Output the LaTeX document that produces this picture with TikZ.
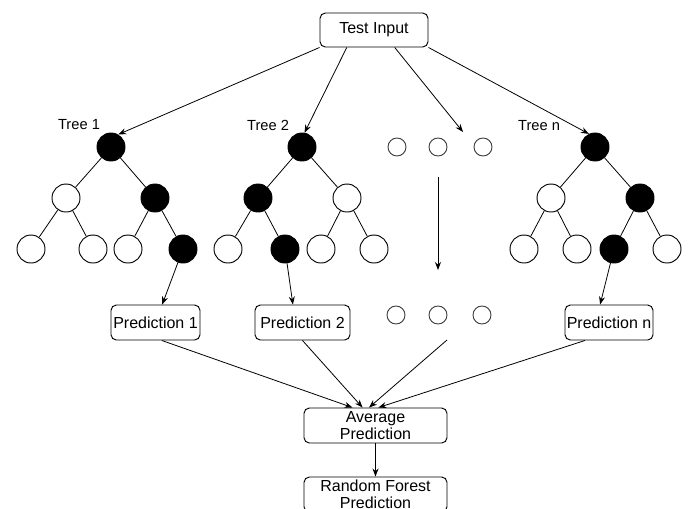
\documentclass[tikz,border=0pt]{standalone}
\usepackage{fontspec}
\setmainfont{Liberation Sans}
\usetikzlibrary{arrows.meta, positioning, calc}

\tikzset{
  box/.style={draw, rounded corners=4pt, line width=0.7pt, minimum height=26.25pt,
    align=center, inner sep=1pt, font=\fontsize{12}{12.75}\selectfont},
  opennode/.style={circle, draw, line width=0.7pt, minimum size=21pt, inner sep=0pt},
  hitnode/.style={opennode, fill=black},
  gapdot/.style={circle, draw=black!75, line width=0.7pt, minimum size=13.5pt, inner sep=0pt},
  link/.style={line width=0.6pt},
  arr/.style={line width=0.6pt, -{Stealth[length=6pt, width=4.5pt]}},
  lbl/.style={font=\fontsize{11}{13}\selectfont}
}

\begin{document}
\begin{tikzpicture}[x=0.75pt, y=-0.75pt]
    \useasboundingbox (0,0) rectangle (688,508);
    % input
    \node[box, minimum width=81pt, minimum height=25.5pt] (ti) at (374,30) {Test Input};

    % tree 1
    \node[hitnode]  (t1)    at (111,147) {};
    \node[opennode] (t1-l)  at (66,198)  {};
    \node[hitnode]  (t1-r)  at (155,198) {};
    \node[opennode] (t1-ll) at (31,249)  {};
    \node[opennode] (t1-lr) at (93,249)  {};
    \node[opennode] (t1-rl) at (128,249) {};
    \node[hitnode]  (t1-rr) at (183,249) {};
    \node[lbl] (lab1) at (79,125) {Tree 1};

    % tree 2
    \node[hitnode]  (t2)    at (302,147) {};
    \node[hitnode]  (t2-l)  at (258,198) {};
    \node[opennode] (t2-r)  at (347,198) {};
    \node[opennode] (t2-ll) at (228,249) {};
    \node[hitnode]  (t2-lr) at (285,249) {};
    \node[opennode] (t2-rl) at (321,249) {};
    \node[opennode] (t2-rr) at (374,249) {};
    \node[lbl] (lab2) at (268,125) {Tree 2};

    % tree n
    \node[hitnode]  (tn)    at (595,147) {};
    \node[opennode] (tn-l)  at (551,198) {};
    \node[hitnode]  (tn-r)  at (640,198) {};
    \node[opennode] (tn-ll) at (524,249) {};
    \node[opennode] (tn-lr) at (577,249) {};
    \node[hitnode]  (tn-rl) at (614,249) {};
    \node[opennode] (tn-rr) at (667,249) {};
    \node[lbl] (labn) at (539,126) {Tree n};

    \foreach \t in {1,2,n}{
      \draw[link] (t\t) -- (t\t-l) (t\t) -- (t\t-r)
                  (t\t-l) -- (t\t-ll) (t\t-l) -- (t\t-lr)
                  (t\t-r) -- (t\t-rl) (t\t-r) -- (t\t-rr);
    }

    % the gap between trees
    \foreach \i/\x in {1/397,2/438,3/483}
      \node[gapdot] (up\i) at (\x,147) {};
    \foreach \i/\x in {1/396,2/438,3/482}
      \node[gapdot] (lo\i) at (\x,315) {};
    \coordinate (gapin)  at (463,132);
    \coordinate (gaptop) at (438,177);
    \coordinate (gapbot) at (438,270);
    \coordinate (gapout) at (447,340);

    % predictions
    \node[box, minimum width=66.75pt] (p1) at (155.5,322.5) {Prediction 1};
    \node[box, minimum width=71.25pt] (p2) at (302.5,322.5) {Prediction 2};
    \node[box, minimum width=66pt]    (pn) at (609,322.5)   {Prediction n};
    \node[box, minimum width=107.25pt] (avg) at (375.5,425.5) {Average\\Prediction};
    \node[box, minimum width=107.25pt] (rf)  at (375.5,494.5) {Random Forest\\Prediction};

    % arrows
    \draw[arr] (ti.south west) -- (t1.60);
    \draw[arr] ($(ti.south west)!0.25!(ti.south east)$) -- (t2.80);
    \draw[arr] ($(ti.south west)!0.69!(ti.south east)$) -- (gapin);
    \draw[arr] (ti.south east) -- (tn.115);
    \draw[arr] (gaptop) -- (gapbot);

    \draw[arr] (t1-rr) -- (p1);
    \draw[arr] (t2-lr) -- ($(p2.north west)!0.4!(p2.north east)$);
    \draw[arr] (tn-rl) -- ($(pn.north west)!0.4!(pn.north east)$);

    \draw[arr] ($(p1.south west)!0.57!(p1.south east)$) -- ($(avg.north west)!0.34!(avg.north east)$);
    \draw[arr] (p2.south) -- ($(avg.north west)!0.41!(avg.north east)$);
    \draw[arr] (gapout) -- ($(avg.north west)!0.455!(avg.north east)$);
    \draw[arr] ($(pn.south west)!0.23!(pn.south east)$) -- ($(avg.north west)!0.52!(avg.north east)$);
    \draw[arr] (avg) -- (rf);
\end{tikzpicture}
\end{document}
